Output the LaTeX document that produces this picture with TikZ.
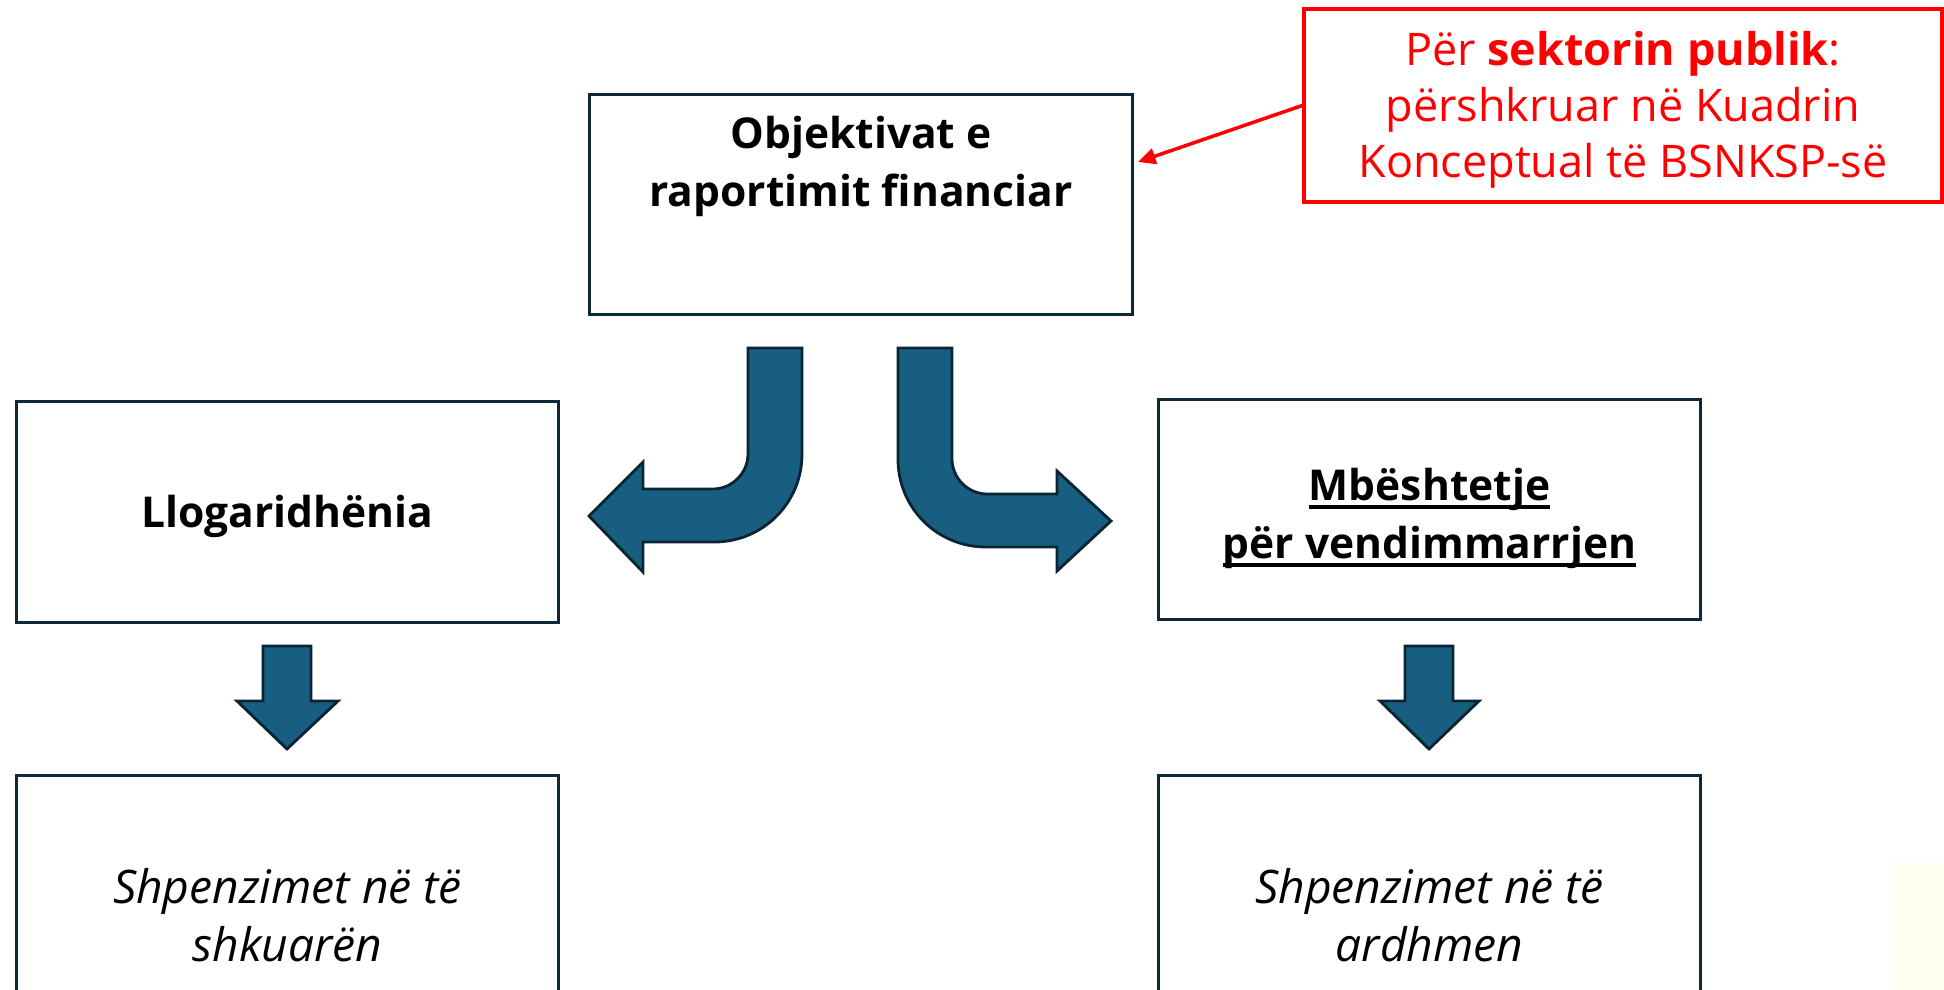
\documentclass[tikz,border=0pt]{standalone}
\usepackage{fontspec}
\setmainfont{Open Sans}
\newfontfamily\notefont{Open Sans}
\usepackage{xcolor}
\usetikzlibrary{arrows.meta}

\definecolor{boxline}{RGB}{13,40,56}
\definecolor{arrowfill}{RGB}{23,94,128}
\definecolor{arrowline}{RGB}{10,36,52}
\definecolor{notered}{RGB}{255,0,0}
\definecolor{cream}{RGB}{255,255,240}

% thick underline for the right box
\newcommand{\ulthick}[1]{\setbox0\hbox{#1}\leavevmode\rlap{\rule[-5pt]{\wd0}{2.2pt}}\box0}

\begin{document}
\begin{tikzpicture}[x=0.02cm, y=-0.02cm,
    box/.style={draw=boxline, line width=1.7pt, minimum width=10.86cm, minimum height=4.42cm, align=center, inner sep=0pt},
    boldtext/.style={font=\fontsize{24.2}{33}\selectfont\bfseries, align=center},
    italtext/.style={font=\fontsize{26.3}{33}\selectfont\itshape, align=center},
    notebox/.style={draw=notered, line width=2pt, minimum width=12.76cm, minimum height=3.86cm},
    notetext/.style={text=notered, align=center, font=\notefont\fontsize{25.6}{32}\selectfont},
    bentarrow/.style={fill=arrowfill, draw=arrowline, line width=1.6pt, line join=miter},
    downarrow/.style={fill=arrowfill, draw=arrowline, line width=1.6pt}]

    \clip (0,0) rectangle (1944,990);
    \fill[cream] (1893,863) rectangle (1944,990);

    % Define the boxes with specific positions
    \node[box] (obj) at (861,204.5) {};
    \node[boldtext, anchor=north, inner sep=0pt] (objtext) at (861,116) {Objektivat e\\raportimit financiar};

    \node[box] (acc) at (287.5,512) {};
    \node[boldtext] (acctext) at (287.5,516) {Llogaridhënia};
    \node[box] (dec) at (1429.5,509.5) {};
    \node[boldtext] (dectext) at (1429.5,518) {\ulthick{Mbështetje}\\\ulthick{për vendimmarrjen}};

    \node[box, italtext, minimum height=5.6cm] (past) at (287.5,915) {Shpenzimet në të\\shkuarën};
    \node[box, italtext, minimum height=5.6cm] (fut) at (1429.5,915) {Shpenzimet në të\\ardhmen};

    \node[notebox] (note) at (1623,105.5) {};
    \node[notetext] (notetext) at (1623,110) {Për \textbf{sektorin publik}:\\përshkruar në Kuadrin\\Konceptual të BSNKSP-së};
    \coordinate (objtip) at (1138,162);

    % Draw the bent arrows
    \draw[bentarrow] (748,348) -- (802,348) -- (802,454)
        .. controls (802,503) and (763,542) .. (714,542)
        -- (643,542) -- (643,572) -- (589,516) -- (643,462) -- (643,489) -- (713,489)
        .. controls (732,489) and (748,473) .. (748,454) -- cycle;
    \draw[bentarrow] (898,348) -- (952,348) -- (952,459)
        .. controls (952,478) and (968,494) .. (987,494)
        -- (1057,494) -- (1057,471) -- (1111,521) -- (1057,571) -- (1057,547) -- (986,547)
        .. controls (937,547) and (898,508) .. (898,459) -- cycle;

    % Draw the down arrows
    \draw[downarrow] (263,646) -- (311,646) -- (311,701) -- (338,701) -- (287,749) -- (237,701) -- (263,701) -- cycle;
    \draw[downarrow] (1405,646) -- (1453,646) -- (1453,701) -- (1479,701) -- (1429,749) -- (1380,701) -- (1405,701) -- cycle;

    % Draw the red pointer
    \draw[notered, line width=2pt, -{Triangle[length=10pt, width=9pt]}] (note.west) -- (objtip);
\end{tikzpicture}
\end{document}
